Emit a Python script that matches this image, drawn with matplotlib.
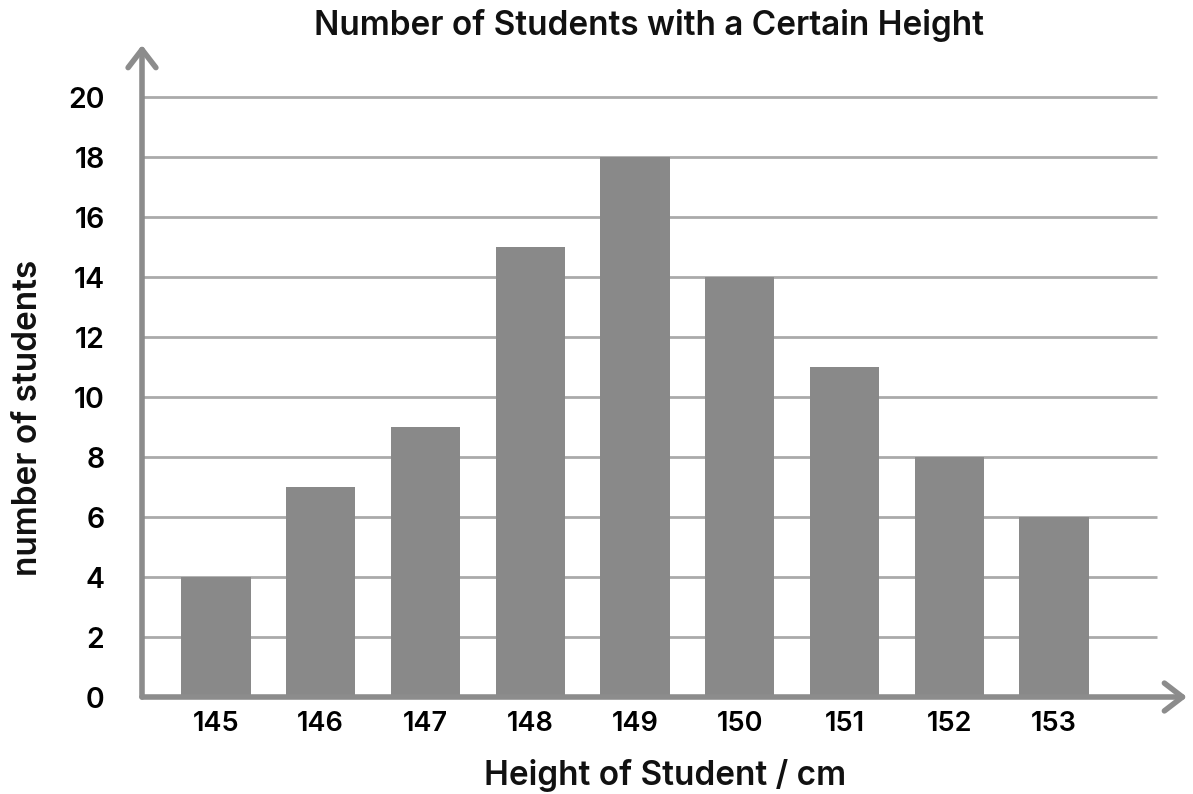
import numpy as np
import matplotlib.pyplot as plt

# colours
BAR_COLOR  = '#898989'
AXIS_COLOR = '#8c8c8c'
GRID_COLOR = '#aaaaaa'
TEXT_COLOR = '#111111'

plt.rcParams.update({
    'font.family': ['Inter', 'DejaVu Sans'],
    'text.color': TEXT_COLOR,
})

# data
heights = ['145', '146', '147', '148', '149', '150', '151', '152', '153']
counts = [4, 7, 9, 15, 18, 14, 11, 8, 6]
y_ticks = [0, 2, 4, 6, 8, 10, 12, 14, 16, 18, 20]

fig = plt.figure(figsize=(11.93, 7.94), dpi=100)
ax = fig.add_axes([142 / 1193, 97 / 794, (1187 - 142) / 1193, (697 - 45) / 794])

x = np.arange(len(heights))
x_left, x_right, grid_right = -0.706, 9.27, 8.98
y_top = 21.75

ax.set_xlim(x_left, x_right)
ax.set_ylim(0, y_top)

# grid lines
for t in y_ticks[1:]:
    ax.hlines(t, x_left, grid_right, color=GRID_COLOR, lw=2, zorder=1)

ax.bar(x, counts, width=0.66, color=BAR_COLOR, zorder=2)

# axes with open chevron arrows
arrow = dict(arrowstyle='->,head_length=1.3,head_width=1.0', color=AXIS_COLOR,
             lw=4, shrinkA=0, shrinkB=0, joinstyle='round', capstyle='round')
ax.annotate('', xy=(x_left, y_top), xytext=(x_left, 0), arrowprops=arrow,
            annotation_clip=False, zorder=3)
ax.annotate('', xy=(x_right, 0), xytext=(x_left, 0), arrowprops=arrow,
            annotation_clip=False, zorder=3)

for s in ax.spines.values():
    s.set_visible(False)

ax.set_xticks(x)
ax.set_xticklabels(heights, fontsize=19.5, fontweight='semibold')
ax.set_yticks(y_ticks)
ax.set_yticklabels([str(v) for v in y_ticks], fontsize=20.5, fontweight='semibold')
ax.tick_params(axis='both', length=0)
ax.tick_params(axis='x', pad=10)
ax.tick_params(axis='y', pad=27)

fig.text(649 / 1193, 1 - 25 / 794, 'Number of Students with a Certain Height',
         ha='center', va='center', fontsize=24, fontweight='semibold')
fig.text(665 / 1193, 1 - 775 / 794, 'Height of Student / cm',
         ha='center', va='center', fontsize=24, fontweight='semibold')
fig.text(28 / 1193, 1 - 418 / 794, 'number of students', rotation=90,
         ha='center', va='center', fontsize=24, fontweight='semibold')

fig.savefig('out.png', dpi=100, facecolor='white')
